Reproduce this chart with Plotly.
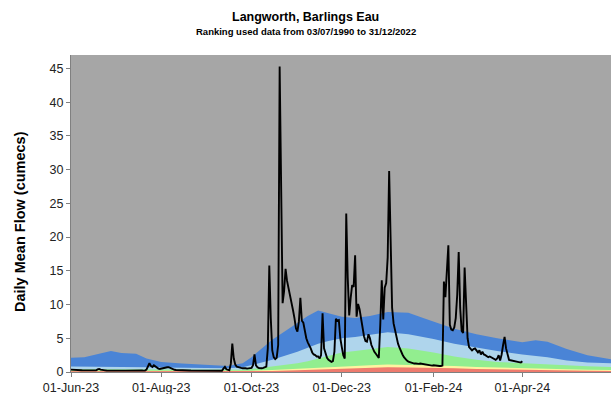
import pandas as pd
import plotly.graph_objects as go

# Daily mean flow (cumecs), one list per month, starting 01-Jun-2023
flow_jun = [0.35, 0.32, 0.30, 0.28, 0.27, 0.26, 0.25, 0.25, 0.24, 0.24, 0.23, 0.23, 0.22, 0.22, 0.22,
            0.21, 0.21, 0.25, 0.38, 0.45, 0.35, 0.28, 0.25, 0.24, 0.23, 0.22, 0.22, 0.21, 0.21, 0.20]
flow_jul = [0.22, 0.22, 0.21, 0.21, 0.20, 0.20, 0.20, 0.21, 0.22, 0.20, 0.19, 0.19, 0.19, 0.20, 0.19,
            0.19, 0.18, 0.20, 0.22, 0.20, 0.20, 0.35, 0.90, 1.30, 0.90, 0.75, 1.00, 0.80, 0.60, 0.50, 0.45]
flow_aug = [0.50, 0.60, 0.70, 0.75, 0.70, 0.72, 0.60, 0.45, 0.38, 0.33, 0.30, 0.28, 0.27, 0.26, 0.25,
            0.25, 0.24, 0.24, 0.23, 0.23, 0.22, 0.22, 0.21, 0.21, 0.22, 0.21, 0.20, 0.20, 0.19, 0.19, 0.19]
flow_sep = [0.18, 0.18, 0.18, 0.18, 0.17, 0.17, 0.17, 0.18, 0.18, 0.17, 0.18, 0.50, 0.75, 0.40, 0.30,
            0.25, 1.20, 4.20, 2.00, 1.10, 0.80, 0.70, 0.65, 0.60, 0.55, 0.60, 0.55, 0.50, 0.55, 0.60]
flow_oct = [0.60, 1.00, 2.60, 1.00, 0.70, 0.60, 0.55, 0.55, 0.60, 0.65, 0.80, 3.50, 15.8, 8.00, 3.20,
            2.20, 1.90, 2.10, 4.00, 45.3, 24.0, 10.2, 12.0, 15.3, 13.5, 12.5, 11.6, 10.5, 9.20, 8.00, 6.50]
flow_nov = [6.00, 7.50, 11.0, 7.60, 7.30, 6.00, 5.00, 4.40, 4.00, 3.50, 2.90, 2.60, 2.50, 2.30, 2.30,
            2.00, 2.50, 8.70, 3.50, 2.60, 2.10, 1.80, 1.60, 1.50, 1.60, 3.00, 7.90, 7.60, 7.70, 5.00]
flow_dec = [3.70, 2.50, 2.00, 23.5, 14.0, 8.40, 11.0, 12.9, 12.6, 17.3, 8.20, 10.1, 9.30, 7.80, 6.50,
            5.30, 4.60, 4.50, 5.60, 5.00, 4.00, 3.40, 3.00, 2.70, 2.40, 2.10, 7.00, 13.6, 7.80, 12.5, 13.2]
flow_jan = [17.0, 29.8, 19.0, 9.50, 7.20, 6.00, 5.00, 4.20, 3.60, 3.00, 2.60, 2.20, 1.90, 1.70, 1.55,
            1.45, 1.35, 1.30, 1.25, 1.25, 1.20, 1.20, 1.25, 1.20, 1.15, 1.10, 1.05, 1.00, 1.00, 0.95, 0.95]
flow_feb = [1.00, 0.95, 0.95, 0.90, 0.90, 0.90, 0.95, 13.4, 11.1, 15.0, 18.8, 7.00, 6.30, 6.20, 6.60,
            8.00, 11.5, 17.8, 9.50, 6.10, 5.80, 15.5, 8.50, 5.00, 3.70, 3.40, 3.20, 3.40, 3.50]
flow_mar = [3.20, 2.90, 3.20, 2.60, 3.00, 2.60, 2.50, 2.30, 2.20, 2.30, 2.20, 2.00, 1.90, 1.80, 2.00,
            2.50, 1.70, 2.60, 4.00, 5.20, 3.50, 2.40, 1.80, 1.75, 1.70, 1.65, 1.60, 1.55, 1.50, 1.45, 1.40]
flow_apr = [1.60]

flow = (flow_jun + flow_jul + flow_aug + flow_sep + flow_oct + flow_nov + flow_dec
        + flow_jan + flow_feb + flow_mar + flow_apr)
flow_dates = pd.date_range("2023-06-01", periods=len(flow), freq="D")

# Historic flow-ranking bands (upper boundary of each band, cumecs)
band_dates = ["2023-06-01", "2023-06-10", "2023-06-20", "2023-06-28", "2023-07-05", "2023-07-15",
              "2023-07-22", "2023-08-01", "2023-08-15", "2023-09-01", "2023-09-15", "2023-09-25",
              "2023-10-01", "2023-10-15", "2023-11-01", "2023-11-08", "2023-11-15", "2023-11-22",
              "2023-12-01", "2023-12-10", "2023-12-20", "2024-01-01", "2024-01-15", "2024-01-25",
              "2024-02-01", "2024-02-15", "2024-03-01", "2024-03-15", "2024-04-01", "2024-04-10",
              "2024-04-18", "2024-05-01", "2024-05-15", "2024-05-31"]
band_high = [2.1, 2.2, 2.7, 3.1, 2.8, 2.7, 2.0, 1.5, 1.25, 1.0, 0.9, 1.3,
             2.2, 4.8, 7.3, 8.3, 9.1, 8.7, 8.2, 8.0, 8.3, 8.9, 8.8, 8.0,
             7.5, 6.4, 5.6, 5.0, 4.4, 4.7, 4.5, 3.4, 2.5, 1.9]
band_above = [0.8, 0.8, 0.78, 0.76, 0.75, 0.72, 0.7, 0.65, 0.6, 0.55, 0.55, 0.7,
              1.0, 1.8, 3.0, 3.6, 4.2, 4.6, 5.0, 5.2, 5.5, 5.9, 5.6, 5.2,
              4.9, 4.2, 3.6, 3.1, 2.6, 2.4, 2.2, 1.7, 1.4, 1.3]
band_normal = [0.4, 0.4, 0.38, 0.36, 0.35, 0.34, 0.32, 0.3, 0.3, 0.3, 0.3, 0.35,
               0.45, 0.8, 1.3, 1.6, 2.0, 2.4, 2.9, 3.1, 3.4, 3.7, 3.5, 3.2,
               2.9, 2.3, 1.8, 1.5, 1.3, 1.2, 1.1, 0.95, 0.85, 0.75]
band_below = [0.2, 0.2, 0.19, 0.18, 0.18, 0.17, 0.16, 0.15, 0.14, 0.13, 0.13, 0.15,
              0.2, 0.3, 0.45, 0.55, 0.62, 0.7, 0.8, 0.9, 1.0, 1.1, 1.05, 1.02,
              1.0, 0.9, 0.75, 0.65, 0.55, 0.5, 0.47, 0.4, 0.35, 0.3]
band_low = [0.1, 0.1, 0.1, 0.1, 0.1, 0.1, 0.1, 0.1, 0.1, 0.1, 0.1, 0.1,
            0.1, 0.15, 0.25, 0.3, 0.35, 0.42, 0.5, 0.58, 0.65, 0.7, 0.68, 0.66,
            0.65, 0.55, 0.45, 0.38, 0.3, 0.28, 0.26, 0.2, 0.18, 0.15]

band_colors = ["#4A84D6", "#AFD5EC", "#92EE8F", "#FFF3A0", "#EE7B6E"]
band_tops = [band_high, band_above, band_normal, band_below, band_low]

x_ticks = ["2023-06-01", "2023-08-01", "2023-10-01", "2023-12-01", "2024-02-01", "2024-04-01"]
y_ticks = [0, 5, 10, 15, 20, 25, 30, 35, 40, 45]

FONT = "Arial, Liberation Sans, sans-serif"

fig = go.Figure()
for top, col in zip(band_tops, band_colors):
    fig.add_trace(go.Scatter(x=band_dates, y=top, mode="lines", fill="tozeroy",
                             line=dict(width=0, color=col), fillcolor=col,
                             hoverinfo="skip", showlegend=False))

fig.add_trace(go.Scatter(x=flow_dates, y=flow, mode="lines",
                         line=dict(color="black", width=1.9), showlegend=False))

fig.update_layout(
    width=611, height=394,
    margin=dict(l=71, r=0, t=55, b=22),
    paper_bgcolor="white", plot_bgcolor="#A6A6A6",
    font=dict(family=FONT, size=12.5, color="#222222"),
    showlegend=False,
    xaxis=dict(range=["2023-06-01", "2024-05-30 22:00"], tickvals=x_ticks,
               tickformat="%d-%b-%y", ticks="outside", ticklen=4, tickcolor="#808080",
               showgrid=False, zeroline=False, showline=True, linecolor="#808080",
               tickfont=dict(size=12.5)),
    yaxis=dict(range=[0, 47], tickvals=y_ticks, ticks="outside", ticklen=4,
               tickcolor="#808080", showgrid=False, zeroline=False, showline=True,
               linecolor="#808080", tickfont=dict(size=12.5)),
    annotations=[
        dict(text="<b>Langworth, Barlings Eau</b>", xref="paper", yref="paper",
             x=(305.5 - 71) / 540, y=(372 - 16.5) / 317, xanchor="center", yanchor="middle",
             showarrow=False, font=dict(size=12.5, color="black")),
        dict(text="<b>Ranking used data from 03/07/1990 to 31/12/2022</b>", xref="paper", yref="paper",
             x=(305.5 - 71) / 540, y=(372 - 31.5) / 317, xanchor="center", yanchor="middle",
             showarrow=False, font=dict(size=9.5, color="black")),
        dict(text="<b>Daily Mean Flow (cumecs)</b>", xref="paper", yref="paper",
             x=(20 - 71) / 540, y=(372 - 222) / 317, xanchor="center", yanchor="middle",
             textangle=-90, showarrow=False, font=dict(size=14.5, color="black")),
    ],
)

fig.write_html("out.html")
